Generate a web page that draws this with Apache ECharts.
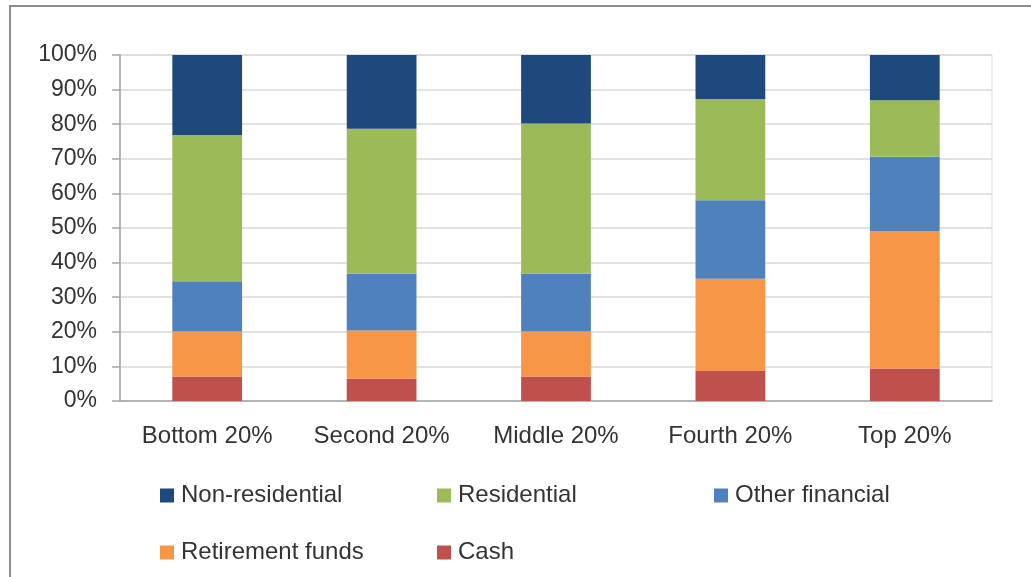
<!DOCTYPE html>
<html>
<head>
<meta charset="utf-8">
<script src="https://cdn.jsdelivr.net/npm/echarts@6/dist/echarts.min.js"></script>
<style>
  html, body { margin: 0; padding: 0; background: #fff; }
  #chart { width: 1031px; height: 577px; }
</style>
</head>
<body>
<div id="chart"></div>
<script>
  // data (share of wealth, %)
  var categories = ['Bottom 20%', 'Second 20%', 'Middle 20%', 'Fourth 20%', 'Top 20%'];
  var cash = [7.1, 6.4, 7.1, 8.7, 9.4];
  var retirementFunds = [13.0, 14.0, 13.0, 26.6, 39.7];
  var otherFinancial = [14.5, 16.4, 16.7, 22.7, 21.5];
  var residential = [42.3, 41.9, 43.4, 29.3, 16.3];
  var nonResidential = [23.1, 21.3, 19.8, 12.7, 13.1];
  var legendOrder = ['Non-residential', 'Residential', 'Other financial', 'Retirement funds', 'Cash'];

  var font = 'Liberation Sans';
  var textColor = '#333333';

  function bar(name, data, color) {
    return {
      name: name,
      type: 'bar',
      stack: 'total',
      barWidth: '40%',
      itemStyle: { color: color },
      data: data
    };
  }

  var chart = echarts.init(document.getElementById('chart'));
  chart.setOption({
    animation: false,
    textStyle: { fontFamily: font },
    graphic: [{
      type: 'rect',
      shape: { x: 10, y: 6, width: 1100, height: 700 },
      style: { fill: 'none', stroke: '#8c8c8c', lineWidth: 2 },
      silent: true
    }],
    grid: {
      left: 120, right: 39, top: 55, bottom: 176,
      show: true, borderColor: '#d9d9d9', borderWidth: 1
    },
    legend: {
      data: legendOrder,
      left: 155, top: 465, width: 860,
      itemWidth: 14, itemHeight: 14, itemGap: 6,
      icon: 'rect',
      selectedMode: false,
      textStyle: {
        fontFamily: font, fontSize: 24, color: textColor,
        width: 250, lineHeight: 51, padding: [0, 0, 0, 2]
      }
    },
    xAxis: {
      type: 'category',
      data: categories,
      axisLine: { lineStyle: { color: '#a6a6a6', width: 1.5 } },
      axisTick: { length: 8, lineStyle: { color: '#a6a6a6', width: 1.5 } },
      axisLabel: { fontSize: 24, color: textColor, margin: 23, interval: 0 }
    },
    yAxis: {
      type: 'value',
      min: 0, max: 100, interval: 10,
      axisLine: { show: true, lineStyle: { color: '#a6a6a6', width: 1.5 } },
      axisTick: { show: true, length: 8, lineStyle: { color: '#a6a6a6', width: 1.5 } },
      axisLabel: { fontSize: 23, color: textColor, margin: 23, formatter: '{value}%' },
      splitLine: { lineStyle: { color: '#d9d9d9', width: 1.5 } }
    },
    series: [
      bar('Cash', cash, '#C0504D'),
      bar('Retirement funds', retirementFunds, '#F79646'),
      bar('Other financial', otherFinancial, '#4F81BD'),
      bar('Residential', residential, '#9BBB59'),
      bar('Non-residential', nonResidential, '#1F497D')
    ]
  });
</script>
</body>
</html>
